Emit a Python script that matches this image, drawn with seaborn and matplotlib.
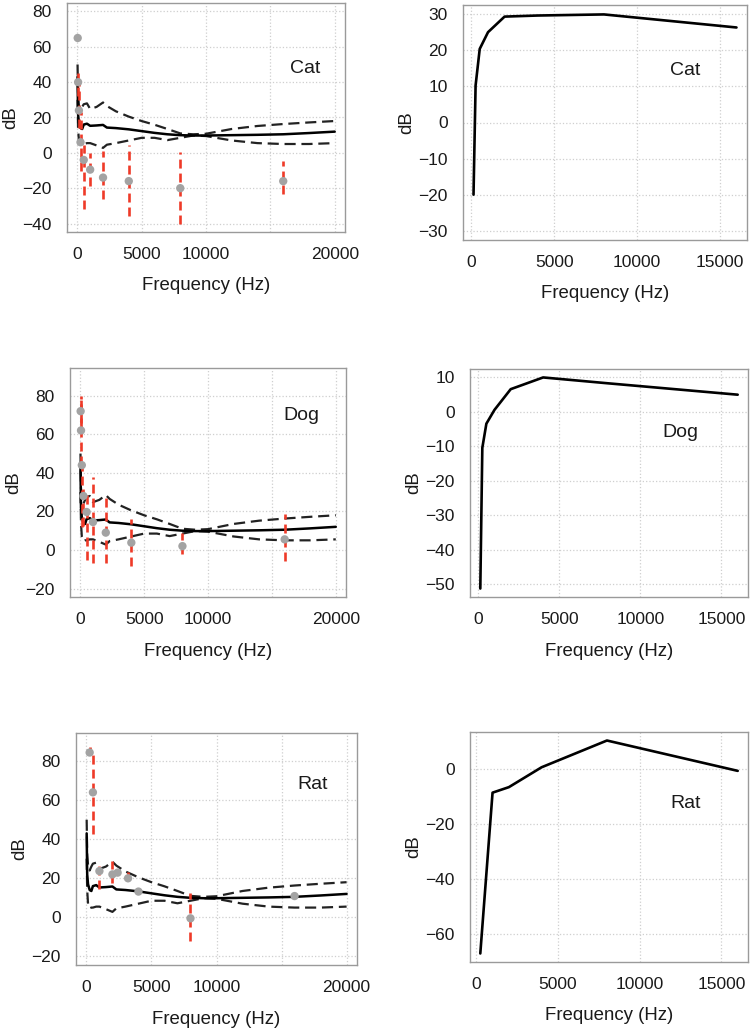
import matplotlib
matplotlib.use('Agg')
import numpy as np
import pandas as pd
import matplotlib.pyplot as plt
import seaborn as sns

# shared threshold model (left column): median and bounds
model_freq = [20, 60, 125, 250, 380, 500, 750, 1000, 1500, 2000, 2300, 3000, 4000,
              5000, 6000, 7000, 8000, 9000, 10000, 12000, 14000, 16000, 18000, 20000]
model_mid = [43, 22, 17, 14, 13.5, 16, 16.5, 15.3, 15.5, 15.8, 14.3, 14, 13.3,
             12.3, 11.3, 10.5, 10, 9.8, 9.8, 10, 10.2, 10.5, 11.2, 12]
model_hi = [50, 32, 27, 24, 26, 27.5, 28, 24.8, 26, 28.5, 26.5, 23.5, 20.5,
            18, 15.9, 13.5, 11, 10.5, 10.8, 13.5, 15.2, 16.3, 17.2, 18]
model_lo = [30, 14, 7, 4.6, 5, 5, 5.5, 5.5, 4.2, 2.8, 4.6, 5.5, 7,
            8.5, 8.5, 7.2, 8.5, 9.8, 9.5, 7, 5.5, 5, 5, 5.5]

# measured points with error ranges
cat_pt_freq = [32, 63, 125, 250, 500, 1000, 2000, 4000, 8000, 16000]
cat_pt_db = [65, 40, 24, 6, -4, -9.5, -14, -16, -20, -16]
cat_err_lo = [65, 32, 14, -10, -32, -18.7, -26.4, -35.7, -40, -23.5]
cat_err_hi = [65, 46, 40, 23, 4.5, 0, 0.8, 4.5, 0.4, -4.5]

dog_pt_freq = [32, 63, 125, 250, 500, 1000, 2000, 4000, 8000, 16000]
dog_pt_db = [72, 62, 44, 28, 19.7, 14.5, 9, 3.8, 2, 5.5]
dog_err_lo = [64, 44, 12, 12.5, -5, -6.6, -6.6, -8.4, -2.3, -5.8]
dog_err_hi = [80, 80, 47, 33, 30.7, 37.6, 29, 16, 9, 18.5]

rat_pt_freq = [250, 500, 1000, 2000, 2400, 3200, 4000, 8000, 16000]
rat_pt_db = [84.4, 64, 23.7, 22, 22.9, 20, 13.2, -0.5, 10.9]
rat_err_lo = [83, 42.6, 14.4, 17.4, 22, 19.5, 13.2, -12.2, 10.9]
rat_err_hi = [87, 85, 28.8, 28.8, 25, 23.3, 13.2, 12.6, 10.9]

# right column curves
cat_gain_freq = [125, 250, 500, 1000, 2000, 4000, 8000, 16000]
cat_gain_db = [-19.9, 10.2, 20.3, 24.9, 29.2, 29.5, 29.8, 26.2]
dog_gain_freq = [125, 250, 500, 1000, 2000, 4000, 8000, 16000]
dog_gain_db = [-51.2, -10.4, -3.4, 0.6, 6.6, 10, 8.3, 5]
rat_gain_freq = [250, 1000, 2000, 4000, 8000, 16000]
rat_gain_db = [-66.9, -8.6, -6.6, 0.6, 10.3, -0.7]

sns.set_style('white')
plt.rcParams['font.family'] = ['Liberation Sans', 'DejaVu Sans']

W, H = 751, 1034
TXT = '#1a1a1a'
fig = plt.figure(figsize=(W / 100, H / 100), dpi=100)


def add_box(l, t, r, b):
    return fig.add_axes([l / W, 1 - b / H, (r - l) / W, (b - t) / H])


def style_axes(ax, w_px, h_px):
    for s in ax.spines.values():
        s.set_color('#9a9a9a')
        s.set_linewidth(1.0)
    ax.grid(True, linestyle=':', color='#cfcfcf', linewidth=0.9)
    ax.set_axisbelow(True)
    ax.tick_params(direction='out', length=5, width=0.9, color='#8a8a8a',
                   labelsize=12.5, labelcolor=TXT, pad=6)
    ax.set_xlabel('Frequency (Hz)', fontsize=13.4, color=TXT)
    ax.set_ylabel('dB', fontsize=13.4, color=TXT)
    ax.xaxis.label.set_verticalalignment('center')
    ax.yaxis.label.set_verticalalignment('center')
    ax.xaxis.set_label_coords(0.5, -54 / h_px)
    ax.yaxis.set_label_coords(-56 / w_px, 0.5)


left_panels = [
    ('Cat', (67, 3, 345, 232), cat_pt_freq, cat_pt_db, cat_err_lo, cat_err_hi,
     (-44.8, 84.8), list(range(-40, 81, 20)), (17700, 48)),
    ('Dog', (70, 368, 346, 597), dog_pt_freq, dog_pt_db, dog_err_lo, dog_err_hi,
     (-24.4, 94.4), list(range(-20, 81, 20)), (17300, 70)),
    ('Rat', (76, 733, 357, 965), rat_pt_freq, rat_pt_db, rat_err_lo, rat_err_hi,
     (-24.4, 94.4), list(range(-20, 81, 20)), (17400, 68)),
]

model = pd.DataFrame({'freq': model_freq, 'mid': model_mid,
                      'hi': model_hi, 'lo': model_lo})

for name, box, pf, pdb, elo, ehi, ylim, yticks, txt_xy in left_panels:
    ax = add_box(*box)
    sns.lineplot(data=model, x='freq', y='hi', ax=ax, color='#222222', lw=1.6,
                 linestyle=(0, (5, 2.6)), sort=False, estimator=None, zorder=2)
    sns.lineplot(data=model, x='freq', y='lo', ax=ax, color='#222222', lw=1.6,
                 linestyle=(0, (5, 2.6)), sort=False, estimator=None, zorder=2)
    sns.lineplot(data=model, x='freq', y='mid', ax=ax, color='black', lw=1.8,
                 sort=False, estimator=None, zorder=3)
    ax.vlines(pf, elo, ehi, colors='#ee3a28', linewidth=1.9,
              linestyles=(0, (3.4, 1.9)), zorder=4)
    sns.scatterplot(x=pf, y=pdb, ax=ax, color='#a3a3a3', s=36,
                    edgecolor='none', zorder=5)
    ax.set_xlim(-800, 20800)
    ax.set_ylim(*ylim)
    ax.set_xticks([0, 5000, 10000, 15000, 20000])
    ax.set_xticklabels(['0', '5000', '10000', '', '20000'])
    ax.set_yticks(yticks)
    ax.text(txt_xy[0], txt_xy[1], name, fontsize=14, color=TXT,
            ha='center', va='center')
    style_axes(ax, box[2] - box[0], box[3] - box[1])

right_panels = [
    ('Cat', (463, 5, 747, 240), cat_gain_freq, cat_gain_db,
     list(range(-30, 31, 10)), (12900, 14.4)),
    ('Dog', (470, 369, 748, 597), dog_gain_freq, dog_gain_db,
     list(range(-50, 11, 10)), (12450, -5.9)),
    ('Rat', (470, 732, 748, 962), rat_gain_freq, rat_gain_db,
     [-60, -40, -20, 0], (12800, -12.7)),
]

for name, box, gf, gdb, yticks, txt_xy in right_panels:
    ax = add_box(*box)
    sns.lineplot(x=gf, y=gdb, ax=ax, color='black', lw=1.9,
                 sort=False, estimator=None)
    ax.margins(0.04)
    if name == 'Cat':
        ax.set_ylim(-32.4, 32.4)
    ax.set_xticks([0, 5000, 10000, 15000])
    ax.set_yticks(yticks)
    ax.text(txt_xy[0], txt_xy[1], name, fontsize=14, color=TXT,
            ha='center', va='center')
    style_axes(ax, box[2] - box[0], box[3] - box[1])

fig.savefig('out.png', dpi=100, facecolor='white')
